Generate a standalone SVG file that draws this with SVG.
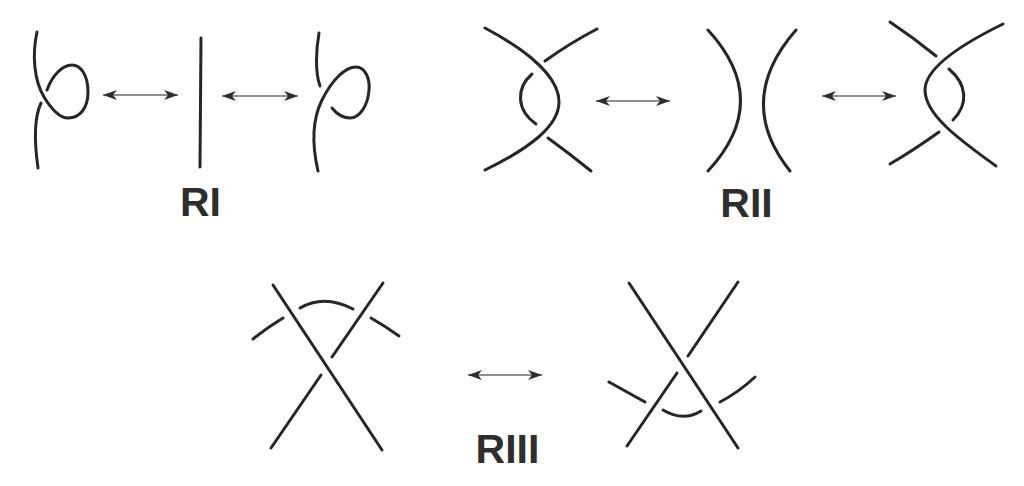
<svg xmlns="http://www.w3.org/2000/svg" width="1024" height="486" viewBox="0 0 1024 486">
<style>
.s{fill:none;stroke:#262626;stroke-width:3;stroke-linecap:round}
.a{fill:none;stroke:#6a6a6a;stroke-width:1.4}
.t{font-family:"Liberation Sans",Arial,sans-serif;font-weight:bold;font-size:41px;fill:#2e2e2e;text-anchor:middle}
</style>
<defs>
<marker id="ah" markerUnits="userSpaceOnUse" markerWidth="16" markerHeight="12" viewBox="0 -6 16 12" refX="14" refY="0" orient="auto-start-reverse">
<path d="M0,-5 L14,0 L0,5 L4,0 Z" fill="#2e2e2e"/>
</marker>
</defs>
<rect width="1024" height="486" fill="#ffffff"/>
<g id="RI-left">
<path class="s" d="M37,32 C32,55 34,80 44,97 C52,110 60,118 68,118 C80,118 88,108 88,92 C88,74 80,65 72,65 C62,65 52,76 47,90"/>
<path class="s" d="M41,103 C34,118 34,140 38,168"/>
</g>
<g id="RI-middle">
<path class="s" d="M201,38 L200,167"/>
</g>
<g id="RI-right">
<path class="s" d="M319,33 C316,50 315,72 320,86"/>
<path class="s" d="M318,171 C312,145 312,120 322,100 C332,80 345,67 356,67 C366,67 370,80 369,90 C368,105 360,118 350,118 C342,118 336,113 332,108"/>
</g>
<g id="RII-left">
<path class="s" d="M485,28 C530,52 559,78 559,102 C559,126 530,148 485,170"/>
<path class="s" d="M597,29 Q570,43 545,61"/>
<path class="s" d="M532,74 C516,88 516,110 536,124"/>
<path class="s" d="M548,138 Q570,154 591,171"/>
</g>
<g id="RII-middle">
<path class="s" d="M708,30 Q773,101 708,171"/>
<path class="s" d="M796,30 Q734,101 790,171"/>
</g>
<g id="RII-right">
<path class="s" d="M1003,24 C960,45 925,68 925,90 C925,115 960,140 996,166"/>
<path class="s" d="M890,22 Q914,38 936,56"/>
<path class="s" d="M949,69 C968,85 968,105 953,120"/>
<path class="s" d="M939,132 Q914,150 890,164"/>
</g>
<g id="RIII-left">
<path class="s" d="M273,285 L382,450"/>
<path class="s" d="M383,283 L332,357"/>
<path class="s" d="M321,375 L271,448"/>
<path class="s" d="M253,339 Q268,327 283,318"/>
<path class="s" d="M300,308 Q324,294 353,309"/>
<path class="s" d="M371,318 Q385,326 399,336"/>
</g>
<g id="RIII-right">
<path class="s" d="M629,283 L738,448"/>
<path class="s" d="M738,282 L688,356"/>
<path class="s" d="M677,373 L627,446"/>
<path class="s" d="M609,382 Q627,392 645,402"/>
<path class="s" d="M663,410 Q683,422 701,411"/>
<path class="s" d="M720,402 Q739,392 755,377"/>
</g>
<g id="connectors">
<line class="a" x1="103" y1="95" x2="178" y2="95" marker-start="url(#ah)" marker-end="url(#ah)"/>
<line class="a" x1="222" y1="96" x2="298" y2="96" marker-start="url(#ah)" marker-end="url(#ah)"/>
<line class="a" x1="596" y1="101" x2="670" y2="101" marker-start="url(#ah)" marker-end="url(#ah)"/>
<line class="a" x1="822" y1="96" x2="896" y2="96" marker-start="url(#ah)" marker-end="url(#ah)"/>
<line class="a" x1="468" y1="375" x2="542" y2="375" marker-start="url(#ah)" marker-end="url(#ah)"/>
</g>
<g id="labels">
<text class="t" x="200.5" y="216">RI</text>
<text class="t" x="746.5" y="217">RII</text>
<text class="t" x="507.5" y="463">RIII</text>
</g>
</svg>
